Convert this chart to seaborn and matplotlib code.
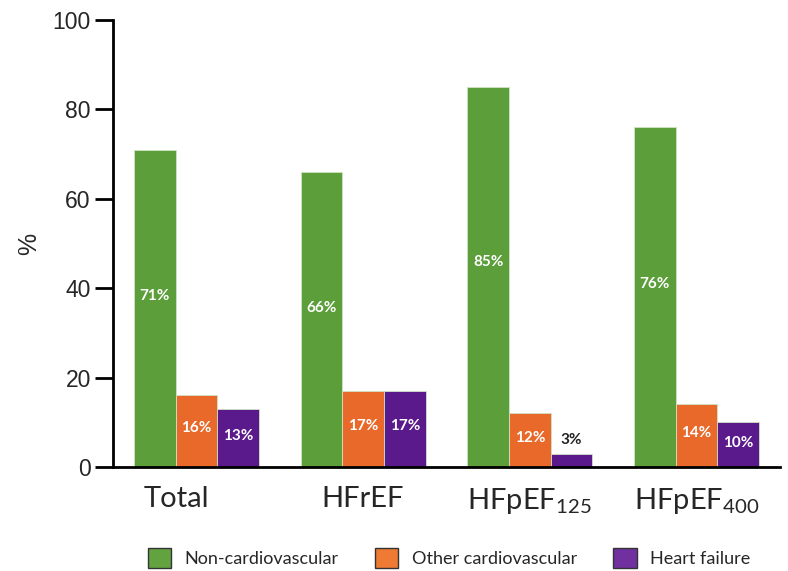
import matplotlib
matplotlib.use("Agg")
import matplotlib.pyplot as plt
from matplotlib.patches import Patch
from matplotlib.transforms import ScaledTranslation
import seaborn as sns
import pandas as pd

groups = ["Total", "HFrEF", "HFpEF125", "HFpEF400"]
group_labels = ["Total", "HFrEF", r"HFpEF$_{\mathregular{125}}$", r"HFpEF$_{\mathregular{400}}$"]
causes = ["Non-cardiovascular", "Other cardiovascular", "Heart failure"]
non_cv = [71, 66, 85, 76]
other_cv = [16, 17, 12, 14]
heart_failure = [13, 17, 3, 10]
yticks = [0, 20, 40, 60, 80, 100]

bar_colors = ["#5B9E3A", "#E8692A", "#5A1A8B"]
legend_colors = ["#62A33F", "#EE7A33", "#7030A0"]

rows = []
for series, cause in zip([non_cv, other_cv, heart_failure], causes):
    for g, v in zip(groups, series):
        rows.append({"group": g, "cause": cause, "value": v})
df = pd.DataFrame(rows)

sns.set_style("white")
plt.rcParams["font.family"] = ["Lato", "DejaVu Sans"]

fig = plt.figure(figsize=(7.88, 5.71), dpi=100)
ax = fig.add_axes([0.1434, 0.1821, 0.8464, 0.7829])

sns.barplot(data=df, x="group", y="value", hue="cause", order=groups,
            hue_order=causes, palette=bar_colors, width=0.75, gap=0,
            saturation=1, ax=ax, legend=False, edgecolor="#cfe3c4", linewidth=0.6)

for container, series in zip(ax.containers, [non_cv, other_cv, heart_failure]):
    for bar, v in zip(container, series):
        cx = bar.get_x() + bar.get_width() / 2
        h = bar.get_height()
        if h < 5:
            ax.text(cx, h + 3, f"{v}%", ha="center", va="center", color="#222222",
                    fontsize=11, fontweight="bold")
        else:
            ax.text(cx, h * 0.54, f"{v}%", ha="center", va="center", color="white",
                    fontsize=11, fontweight="bold")

ax.set_xlim(-0.5, 3.5)
ax.set_ylim(0, 100)
ax.set_yticks(yticks)
ax.set_yticklabels([str(t) for t in yticks], fontfamily="Liberation Sans", fontsize=16.5)
ax.set_xticks(range(len(groups)))
ax.set_xticklabels(group_labels, fontsize=21)
ax.tick_params(axis="y", direction="out", length=13, width=2, color="black", pad=3, left=True)
ax.tick_params(axis="x", length=0, pad=14)
ax.set_xlabel("")
ax.set_ylabel("%", fontfamily="Liberation Sans", fontsize=18, labelpad=8)

# the "Total" label sits left of its group centre in the reference
lbl = ax.get_xticklabels()[0]
lbl.set_transform(lbl.get_transform() + ScaledTranslation(-0.2, 0, fig.dpi_scale_trans))

for s in ["top", "right"]:
    ax.spines[s].set_visible(False)
for s in ["left", "bottom"]:
    ax.spines[s].set_color("black")
    ax.spines[s].set_linewidth(2)

handles = [Patch(facecolor=c, edgecolor="#333333", linewidth=1.0) for c in legend_colors]
fig.legend(handles, causes, loc="center", bbox_to_anchor=(0.57, 0.023), ncol=3,
           frameon=False, fontsize=13, handlelength=1.3, handleheight=1.3,
           columnspacing=2.0, handletextpad=0.75)

fig.savefig("out.png", dpi=100)
